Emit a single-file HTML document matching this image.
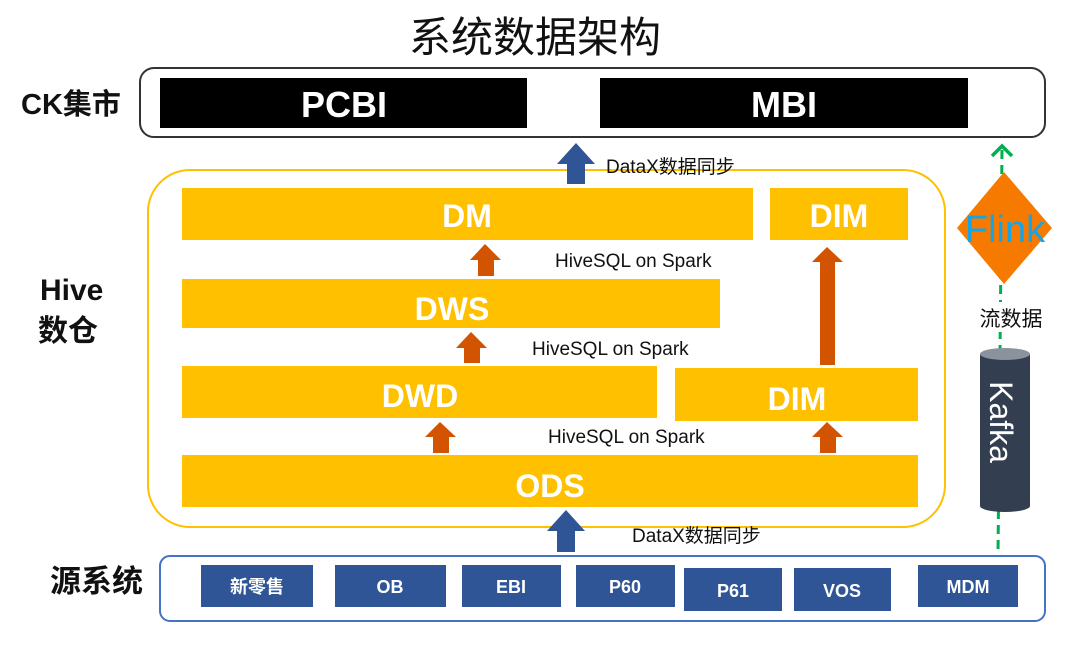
<!DOCTYPE html>
<html><head><meta charset="utf-8"><style>
body{margin:0;background:#fff;}
svg text{font-family:"Liberation Sans","Noto Sans CJK SC",sans-serif;}
</style></head><body>
<svg width="1080" height="641" viewBox="0 0 1080 641" xmlns="http://www.w3.org/2000/svg">
<rect width="1080" height="641" fill="#fff"/>
<text x="535" y="52" font-size="42" text-anchor="middle" fill="#111" font-family="Noto Sans CJK SC,sans-serif">系统数据架构</text>
<g font-weight="bold" fill="#111">
<text x="21" y="114" font-size="29">CK集市</text>
<text x="40" y="300" font-size="30">Hive</text>
<text x="38" y="341" font-size="30">数仓</text>
<text x="50" y="592" font-size="31">源系统</text>
</g>
<rect x="140" y="68" width="905" height="69" rx="14" fill="#fff" stroke="#333" stroke-width="2"/>
<rect x="160" y="78" width="367" height="50" fill="#000"/>
<rect x="600" y="78" width="368" height="50" fill="#000"/>
<g fill="#fff" font-weight="bold" font-size="36" text-anchor="middle">
<text x="344" y="117">PCBI</text><text x="784" y="117">MBI</text>
</g>
<rect x="148" y="170" width="797" height="357" rx="42" fill="none" stroke="#FFC000" stroke-width="2"/>
<g fill="#FFC000">
<rect x="182" y="188" width="571" height="52"/>
<rect x="770" y="188" width="138" height="52"/>
<rect x="182" y="279" width="538" height="49"/>
<rect x="182" y="366" width="475" height="52"/>
<rect x="675" y="368" width="243" height="53"/>
<rect x="182" y="455" width="736" height="52"/>
</g>
<g fill="#fff" font-weight="bold" font-size="32" text-anchor="middle">
<text x="467" y="227">DM</text>
<text x="839" y="227">DIM</text>
<text x="452" y="320">DWS</text>
<text x="420" y="407">DWD</text>
<text x="797" y="410">DIM</text>
<text x="550" y="497">ODS</text>
</g>
<g fill="#2F5597">
<polygon points="557,164 576,143 595,164 585,164 585,184 567,184 567,164"/>
<polygon points="547,531 566,510 585,531 575,531 575,552 557,552 557,531"/>
</g>
<g fill="#D35400">
<polygon points="470,260 485,244 501,260 494,260 494,276 478,276 478,260"/>
<polygon points="456,348 471,332 487,348 480,348 480,363 464,363 464,348"/>
<polygon points="425,437 440,422 456,437 449,437 449,453 433,453 433,437"/>
<polygon points="812,437 827,422 843,437 836,437 836,453 820,453 820,437"/>
<polygon points="812,262 827,247 843,262 835,262 835,365 820,365 820,262"/>
</g>
<g font-size="19" fill="#111">
<text x="606" y="173">DataX数据同步</text>
<text x="555" y="267">HiveSQL on Spark</text>
<text x="532" y="355">HiveSQL on Spark</text>
<text x="548" y="443">HiveSQL on Spark</text>
<text x="632" y="542">DataX数据同步</text>
</g>
<line x1="1002" y1="150" x2="998" y2="555" stroke="#00B050" stroke-width="3" stroke-dasharray="9,6"/>
<polyline points="992,156 1002,146 1012,156" fill="none" stroke="#00B050" stroke-width="3.5"/>
<polygon points="1004,172 1052,228 1004,284 957,228" fill="#F77A00"/>
<text x="1005" y="242" font-size="38" fill="#14A4E8" text-anchor="middle">Flink</text>
<rect x="972" y="302" width="60" height="30" fill="#fff"/>
<text x="1011" y="326" font-size="21" fill="#111" text-anchor="middle">流数据</text>
<rect x="980" y="354" width="50" height="152" fill="#333F50"/>
<ellipse cx="1005" cy="506" rx="25" ry="6" fill="#333F50"/>
<ellipse cx="1005" cy="354" rx="25" ry="6" fill="#8A929E"/>
<text transform="translate(990,422) rotate(90)" font-size="32" fill="#fff" text-anchor="middle">Kafka</text>
<rect x="160" y="556" width="885" height="65" rx="10" fill="#fff" stroke="#4472C4" stroke-width="2"/>
<g fill="#2F5597">
<rect x="201" y="565" width="112" height="42"/>
<rect x="335" y="565" width="111" height="42"/>
<rect x="462" y="565" width="99" height="42"/>
<rect x="576" y="565" width="99" height="42"/>
<rect x="684" y="568" width="98" height="43"/>
<rect x="794" y="568" width="97" height="43"/>
<rect x="918" y="565" width="100" height="42"/>
</g>
<g fill="#fff" font-weight="bold" font-size="18" text-anchor="middle">
<text x="257" y="593" font-family="Noto Serif CJK SC,serif">新零售</text>
<text x="390" y="593">OB</text>
<text x="511" y="593">EBI</text>
<text x="625" y="593">P60</text>
<text x="733" y="597">P61</text>
<text x="842" y="597">VOS</text>
<text x="968" y="593">MDM</text>
</g>
</svg>
</body></html>
